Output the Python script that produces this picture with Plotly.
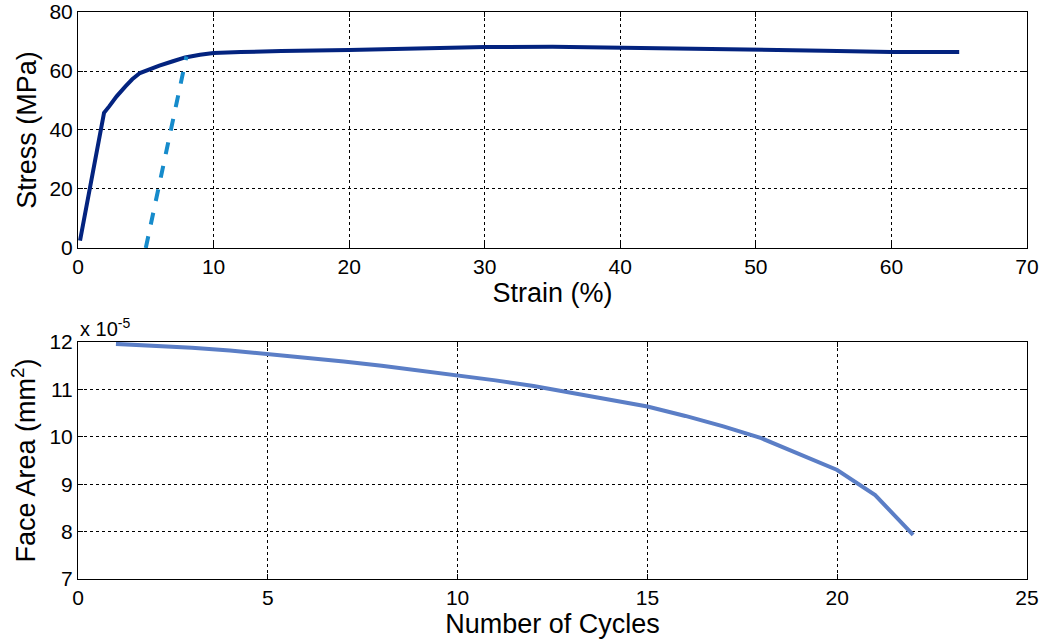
import plotly.graph_objects as go
from plotly.subplots import make_subplots

# Top: stress-strain
strain = [0.15, 0.5, 0.9, 1.3, 1.62, 1.92, 2.3, 2.85, 3.5, 4.0, 4.57, 5.4, 6.0, 7.0, 7.9, 9.0, 10.0, 12.0, 15.0, 20.0, 25.0, 30.0, 35.0, 40.0, 45.0, 50.0, 55.0, 60.0, 65.0]
stress = [2.5, 11.0, 20.5, 30.0, 38.6, 45.8, 48.0, 51.4, 54.8, 57.2, 59.3, 60.9, 61.8, 63.3, 64.6, 65.5, 66.1, 66.4, 66.8, 67.1, 67.6, 68.1, 68.2, 67.9, 67.8, 67.4, 66.9, 66.4, 66.4]
unload_strain = [5.0, 8.0]
unload_stress = [0.0, 64.9]

# Bottom: face area vs cycles (x 1e-5 mm^2)
cycles = list(range(1, 23))
face_area = [11.96, 11.93, 11.88, 11.82, 11.75, 11.67, 11.59, 11.50, 11.40, 11.30, 11.19, 11.07,
             10.93, 10.79, 10.64, 10.44, 10.22, 9.97, 9.64, 9.30, 8.77, 7.93]

x1_ticks = [0, 10, 20, 30, 40, 50, 60, 70]
y1_ticks = [0, 20, 40, 60, 80]
x2_ticks = [0, 5, 10, 15, 20, 25]
y2_ticks = [7, 8, 9, 10, 11, 12]

fig = make_subplots(rows=2, cols=1, vertical_spacing=0.1)
fig.add_trace(go.Scatter(x=strain, y=stress, mode="lines",
                         line=dict(color="#03237F", width=4), showlegend=False), row=1, col=1)
fig.add_trace(go.Scatter(x=unload_strain, y=unload_stress, mode="lines",
                         line=dict(color="#168BCB", width=4, dash="dash"), showlegend=False), row=1, col=1)
fig.add_trace(go.Scatter(x=cycles, y=face_area, mode="lines",
                         line=dict(color="#5B7EC6", width=4), showlegend=False), row=2, col=1)

font = dict(family="Liberation Sans, Arial, sans-serif", color="black")
axis_common = dict(showline=True, linecolor="black", linewidth=1, mirror="ticks",
                   ticks="inside", ticklen=5, tickcolor="black",
                   showgrid=True, gridcolor="black", griddash="dot", gridwidth=1,
                   zeroline=False, automargin=False, ticklabeloverflow="allow",
                   tickfont=dict(size=21, **font))
title_font = dict(size=27, **font)

fig.update_layout(
    width=1047, height=643,
    margin=dict(l=78, r=20, t=12, b=64),
    paper_bgcolor="white", plot_bgcolor="white",
    font=font,
    xaxis=dict(domain=[0, 1], range=[0, 70], tickvals=x1_ticks,
               title=dict(text="Strain (%)", font=title_font, standoff=2), **axis_common),
    yaxis=dict(domain=[0.5838, 1], range=[0, 80], tickvals=y1_ticks,
               title=dict(text="Stress (MPa)", font=title_font, standoff=4), **axis_common),
    xaxis2=dict(domain=[0, 1], range=[0, 25], tickvals=x2_ticks,
                title=dict(text="Number of Cycles", font=title_font, standoff=2), **axis_common),
    yaxis2=dict(domain=[0, 0.418], range=[7, 12], tickvals=y2_ticks,
                title=dict(text="Face Area (mm<sup>2</sup>)", font=title_font, standoff=5), **axis_common),
)
fig.add_annotation(text="x 10<sup>-5</sup>", xref="paper", yref="paper", x=0, y=0.418,
                   xanchor="left", yanchor="bottom", showarrow=False,
                   font=dict(size=20, **font), yshift=0)

fig.write_html("out.html")
